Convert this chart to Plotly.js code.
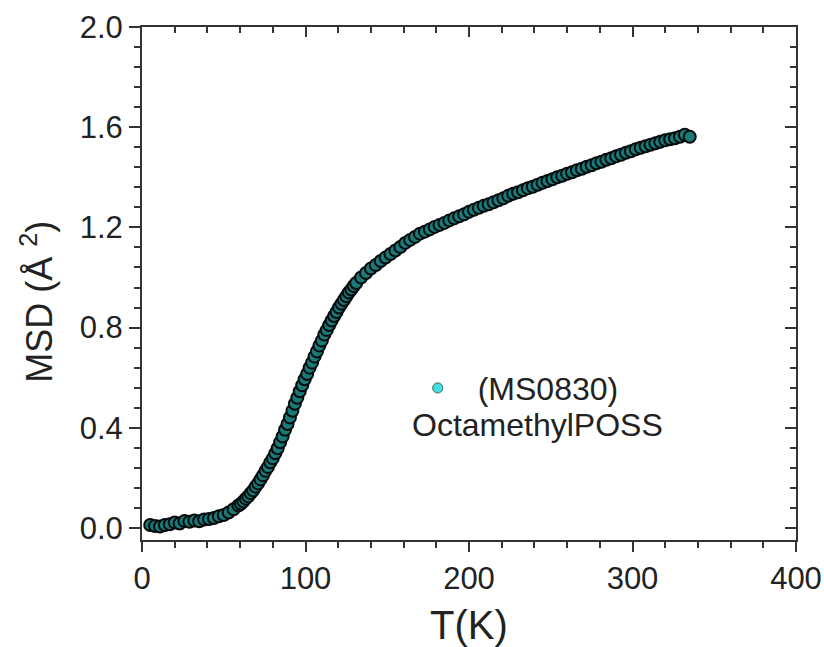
<!DOCTYPE html>
<html>
<head>
<meta charset="utf-8">
<script src="https://cdn.plot.ly/plotly-3.0.1.min.js"></script>
<style>html,body{margin:0;padding:0;background:#fff}#chart{width:824px;height:647px}</style>
</head>
<body>
<div id="chart"></div>
<script>
const temperatureK = [5,8,11,14,17,20,23,26,29,32,35,38,41,44,47,50,53,56,59,60.5,62,63.5,65,66.5,68,69.5,71,72.5,74,75.5,77,78.5,80,81.5,83,84.5,86,87.5,89,90.5,92,93.5,95,96.5,98,99.5,101,102.5,104,105.5,107,108.5,110,111.5,113,114.5,116,117.5,119,120.5,122,123.5,125,126.5,128,129.5,131,134,137,140,143,146,149,152,155,158,161,164,167,170,173,176,179,182,185,188,191,194,197,200,203,206,209,212,215,218,221,224,227,230,233,236,239,242,245,248,251,254,257,260,263,266,269,272,275,278,281,284,287,290,293,296,299,302,305,308,311,314,317,320,323,326,329,332,335];
const msd = [0.012,0.008,0.006,0.012,0.015,0.022,0.018,0.028,0.025,0.030,0.027,0.034,0.036,0.040,0.047,0.052,0.062,0.075,0.090,0.097,0.106,0.117,0.126,0.139,0.150,0.165,0.178,0.194,0.210,0.228,0.243,0.262,0.278,0.298,0.318,0.342,0.365,0.392,0.415,0.441,0.468,0.496,0.520,0.546,0.570,0.594,0.615,0.640,0.660,0.684,0.705,0.728,0.748,0.772,0.790,0.810,0.828,0.846,0.862,0.880,0.895,0.910,0.925,0.940,0.952,0.966,0.978,1.000,1.018,1.036,1.050,1.066,1.080,1.094,1.108,1.122,1.138,1.150,1.162,1.175,1.183,1.192,1.202,1.210,1.218,1.228,1.236,1.244,1.252,1.262,1.270,1.278,1.286,1.292,1.300,1.308,1.316,1.326,1.334,1.340,1.348,1.356,1.362,1.370,1.378,1.385,1.392,1.400,1.406,1.414,1.420,1.428,1.434,1.442,1.448,1.456,1.462,1.470,1.476,1.484,1.490,1.498,1.504,1.512,1.518,1.524,1.530,1.536,1.542,1.548,1.552,1.556,1.562,1.570,1.562];
const seriesName = "(MS0830)";
const sampleName = "OctamethylPOSS";
const xTicks = [0,100,200,300,400];
const yTicks = [0.0,0.4,0.8,1.2,1.6,2.0];
const yTickLabels = ["0.0","0.4","0.8","1.2","1.6","2.0"];

const FONT = "'Liberation Sans', Arial, Helvetica, sans-serif";
const INK = "#222";
const AX = "#333";

const trace = {
  x: temperatureK, y: msd, type: "scatter", mode: "markers", name: seriesName,
  marker: {symbol: "circle", size: 12, color: "#197a7a", line: {color: "#060a0a", width: 2}},
  showlegend: true
};
// same data bound to the top/right frame axes, drawn invisibly so those axes render
const frameTrace = {
  x: temperatureK, y: msd, type: "scatter", mode: "markers", xaxis: "x2", yaxis: "y2",
  marker: {size: 1, opacity: 0}, showlegend: false, hoverinfo: "skip"
};

const baseX = {range: [0, 400], tickvals: xTicks, ticktext: xTicks.map(String)};
const baseY = {range: [-0.048, 2.0], tickvals: yTicks, ticktext: yTickLabels};

const layout = {
  width: 824, height: 647,
  margin: {l: 142, r: 28, t: 27, b: 107},
  paper_bgcolor: "#fff", plot_bgcolor: "#fff",
  font: {family: FONT, color: INK},
  showlegend: true,
  legend: {x: 0.391, y: 0.296, xanchor: "left", yanchor: "middle", bgcolor: "rgba(0,0,0,0)",
           font: {size: 32, family: FONT, color: INK}, itemwidth: 70},
  xaxis: Object.assign({}, baseX, {
    showline: true, linecolor: AX, linewidth: 2, showgrid: false, zeroline: false,
    ticks: "outside", ticklen: 10, tickwidth: 2, tickcolor: AX,
    tickfont: {size: 31, family: FONT, color: INK},
    minor: {dtick: 20, ticks: "outside", ticklen: 6, tickwidth: 2, tickcolor: AX, showgrid: false},
    title: {text: "T(K)", font: {size: 40, family: FONT, color: INK}, standoff: 22}
  }),
  yaxis: Object.assign({}, baseY, {
    showline: true, linecolor: AX, linewidth: 2, showgrid: false, zeroline: false,
    ticks: "outside", ticklen: 11, tickwidth: 2, tickcolor: AX,
    tickfont: {size: 31, family: FONT, color: INK},
    minor: {tick0: 0, dtick: 0.08, ticks: "outside", ticklen: 6, tickwidth: 2, tickcolor: AX, showgrid: false}
  }),
  xaxis2: Object.assign({}, baseX, {
    overlaying: "x", side: "top", anchor: "y2", showline: true, linecolor: AX, linewidth: 2,
    showgrid: false, zeroline: false, showticklabels: false,
    ticks: "inside", ticklen: 10, tickwidth: 2, tickcolor: AX,
    minor: {dtick: 20, ticks: "inside", ticklen: 6, tickwidth: 2, tickcolor: AX, showgrid: false}
  }),
  yaxis2: Object.assign({}, baseY, {
    overlaying: "y", side: "right", anchor: "x2", showline: true, linecolor: AX, linewidth: 2,
    showgrid: false, zeroline: false, showticklabels: false,
    ticks: "inside", ticklen: 11, tickwidth: 2, tickcolor: AX,
    minor: {tick0: 0, dtick: 0.08, ticks: "inside", ticklen: 6, tickwidth: 2, tickcolor: AX, showgrid: false}
  }),
  annotations: [
    {text: sampleName, xref: "x", yref: "y", x: 242, y: 0.41, showarrow: false,
     xanchor: "center", yanchor: "middle", font: {size: 32, family: FONT, color: INK}},
    {text: "MSD (Å&nbsp;<sup>2</sup>)", xref: "paper", yref: "paper", x: -0.16, y: 0.465,
     textangle: -90, showarrow: false, xanchor: "center", yanchor: "middle",
     font: {size: 36, family: FONT, color: INK}}
  ]
};

Plotly.newPlot("chart", [trace, frameTrace], layout, {displayModeBar: false, staticPlot: true}).then(function (gd) {
  // legend symbol in the reference is a light cyan dot with a thin outline
  gd.querySelectorAll(".legend .legendpoints path.scatterpts").forEach(function (p) {
    p.style.fill = "#44dede";
    p.style.stroke = "#335555";
    p.style.strokeWidth = "1px";
    const t = p.getAttribute("transform") || "";
    p.setAttribute("transform", t + " scale(0.85)");
  });
});
</script>
</body>
</html>
